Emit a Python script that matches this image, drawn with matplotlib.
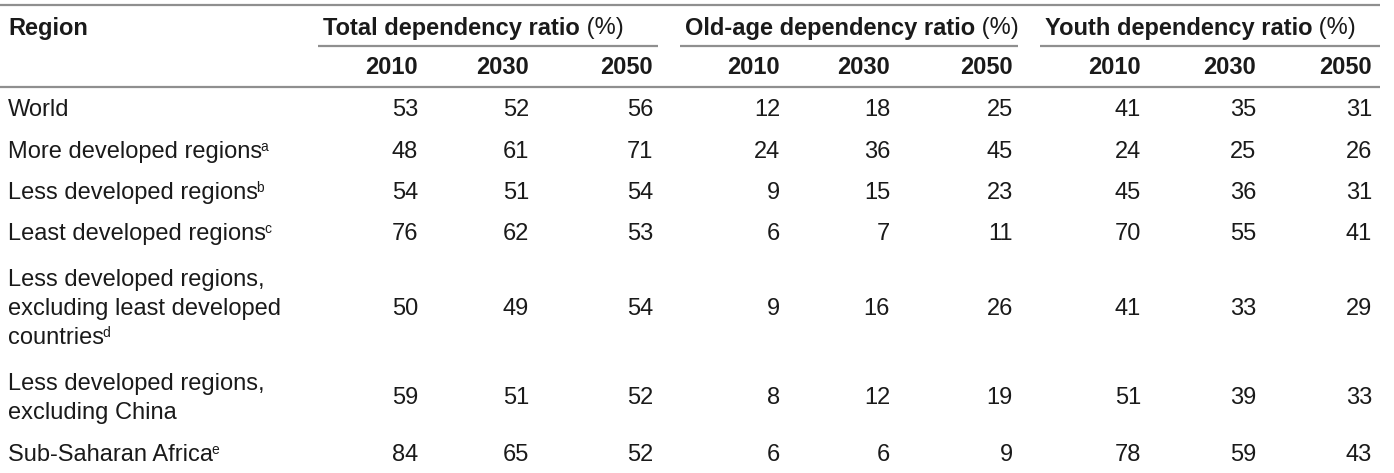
import matplotlib
matplotlib.use("Agg")
import matplotlib.pyplot as plt
from matplotlib import font_manager

# ---------------- data ----------------
regions = [
    ["World"],
    ["More developed regions"],
    ["Less developed regions"],
    ["Least developed regions"],
    ["Less developed regions,", "excluding least developed", "countries"],
    ["Less developed regions,", "excluding China"],
    ["Sub-Saharan Africa"],
]
notes = ["", "a", "b", "c", "d", "", "e"]
years = ["2010", "2030", "2050"]
groups = ["Total dependency ratio", "Old-age dependency ratio", "Youth dependency ratio"]
total = [[53, 52, 56], [48, 61, 71], [54, 51, 54], [76, 62, 53], [50, 49, 54], [59, 51, 52], [84, 65, 52]]
old_age = [[12, 18, 25], [24, 36, 45], [9, 15, 23], [6, 7, 11], [9, 16, 26], [8, 12, 19], [6, 6, 9]]
youth = [[41, 35, 31], [24, 25, 26], [45, 36, 31], [70, 55, 41], [41, 33, 29], [51, 39, 33], [78, 59, 43]]

# ---------------- layout ----------------
W, H = 1394, 473
FS = 17.0
SUP_FS = 10
TXT = "#1a1a1a"
LINE = "#8f8f8f"
avail = {f.name for f in font_manager.fontManager.ttflist}
FAM = "Liberation Sans" if "Liberation Sans" in avail else "DejaVu Sans"

col_right = [[418, 529, 653], [780, 890, 1013], [1141, 1256, 1372]]
grp_span = [(318, 658), (680, 1018), (1040, 1380)]
row_y = [110, 152, 193, 234, 309, 398, 455]
line_gap = 29
y_top, y_head, y_grp_line, y_year, y_head_line = 5, 28, 46, 68, 87
x_left = 8

fig = plt.figure(figsize=(W / 100, H / 100), dpi=100)
ax = fig.add_axes([0, 0, 1, 1])
ax.set_xlim(0, W)
ax.set_ylim(H, 0)
ax.axis("off")
renderer = fig.canvas.get_renderer()


def right_x(t):
    bb = t.get_window_extent(renderer=renderer)
    return bb.x1  # axes maps 1:1 to pixels in x


def txt(x, y, s, **kw):
    kw.setdefault("fontsize", FS)
    kw.setdefault("color", TXT)
    kw.setdefault("family", FAM)
    kw.setdefault("va", "center")
    return ax.text(x, y, s, **kw)


# rules
ax.plot([0, 1380], [y_top, y_top], color=LINE, lw=1.6, solid_capstyle="butt")
ax.plot([0, 1380], [y_head_line, y_head_line], color=LINE, lw=1.6, solid_capstyle="butt")
for (x0, x1) in grp_span:
    ax.plot([x0, x1], [y_grp_line, y_grp_line], color=LINE, lw=1.6, solid_capstyle="butt")

# header
txt(x_left, y_head, "Region", fontweight="bold")
for gi, (g, (x0, x1)) in enumerate(zip(groups, grp_span)):
    t = txt(x0 + 5, y_head, g, fontweight="bold")
    txt(right_x(t), y_head, " (%)")
    for cr, yr in zip(col_right[gi], years):
        txt(cr, y_year, yr, fontweight="bold", ha="right")

# body
tables = [total, old_age, youth]
for i, (lines, note) in enumerate(zip(regions, notes)):
    yc = row_y[i]
    n = len(lines)
    ys = [yc + (k - (n - 1) / 2) * line_gap for k in range(n)]
    last = None
    for s, yy in zip(lines, ys):
        last = txt(x_left, yy, s)
    if note:
        txt(right_x(last) - 1.5, ys[-1] - 5, note, fontsize=SUP_FS)
    for g, tab in enumerate(tables):
        for j, v in enumerate(tab[i]):
            txt(col_right[g][j], yc, str(v), ha="right")

fig.savefig("out.png", dpi=100, facecolor="white")
